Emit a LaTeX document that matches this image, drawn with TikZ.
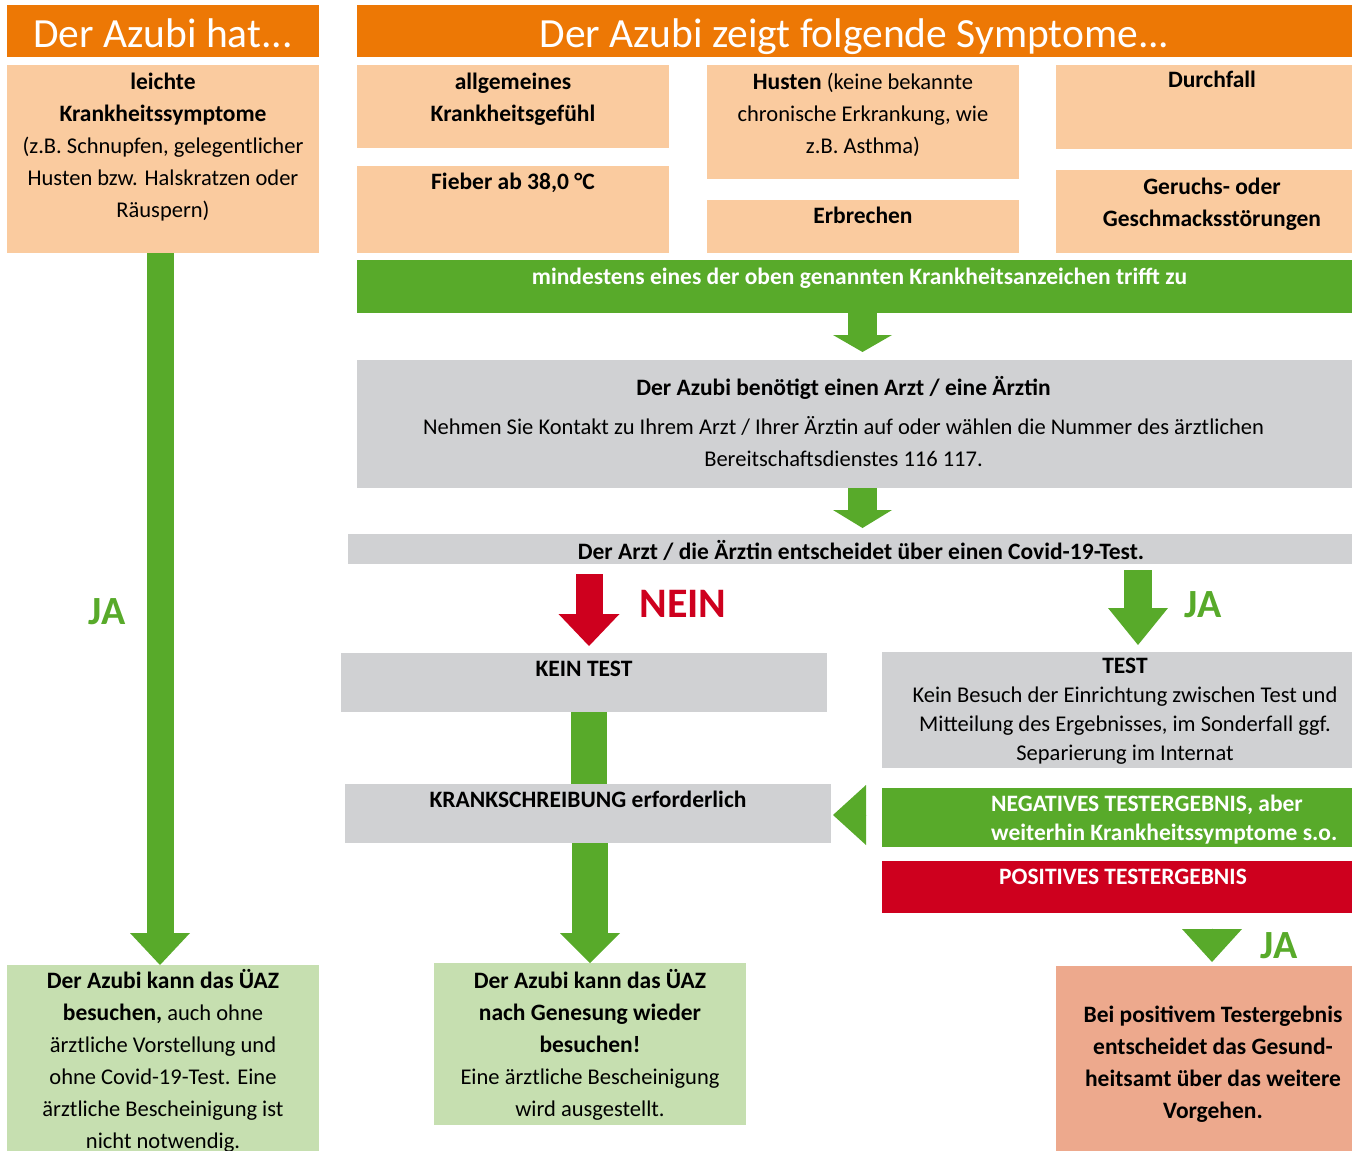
\documentclass[tikz,border=0pt]{standalone}
\usepackage{fontspec}
\setmainfont{Carlito}
\usetikzlibrary{arrows.meta}

\definecolor{headorange}{RGB}{237,120,5}
\definecolor{peach}{RGB}{250,203,159}
\definecolor{okgreen}{RGB}{88,170,42}
\definecolor{boxgray}{RGB}{208,209,211}
\definecolor{alarmred}{RGB}{206,0,30}
\definecolor{palegreen}{RGB}{198,223,176}
\definecolor{salmon}{RGB}{237,169,141}

\newcommand{\bodyfont}{\fontsize{22.5}{32}\selectfont}
\newcommand{\boldfont}{\fontsize{23.5}{32}\selectfont\bfseries}
\newcommand{\hi}[1]{{\boldfont #1}}
\newcommand{\lead}{\rule{0pt}{20pt}}

\begin{document}
\begin{tikzpicture}[x=1pt, y=-1pt,
    cell/.style 2 args={anchor=north west, inner sep=0pt, outer sep=0pt,
                        minimum width=#1, minimum height=#2},
    txt/.style={anchor=north, align=center, inner sep=0pt, font=\bodyfont,
                execute at begin node=\lead, yshift={20pt-#1}},
    txt/.default=28pt,
    ttl/.style={anchor=base, inner sep=0pt, text=white,
                font=\fontsize{41.5}{41.5}\selectfont, yshift=-42pt},
    answer/.style={font=\fontsize{40}{40}\selectfont\bfseries, inner sep=0pt},
    shaft/.style={line width=#1},
    blockhead/.style 2 args={-{Triangle[length=#1, width=#2, line width=0pt]}}
]
\useasboundingbox (0,0) rectangle (1352,1151);

%% headers
\node[cell={312pt}{52pt}, fill=headorange,
      label={[ttl]north:Der Azubi hat...}] (hat) at (7,5) {};
\node[cell={995pt}{52pt}, fill=headorange,
      label={[ttl]north:Der Azubi zeigt folgende Symptome...}] (zeigt) at (357,5) {};

%% symptoms
\node[cell={312pt}{188pt}, fill=peach,
      label={[txt]north:{\hi{leichte}\\\hi{Krankheitssymptome}\\(z.B. Schnupfen, gelegentlicher\\Husten bzw. Halskratzen oder\\Räuspern)}}] (leicht) at (7,65) {};
\node[cell={312pt}{83pt}, fill=peach,
      label={[txt, font=\boldfont]north:{allgemeines\\Krankheitsgefühl}}] (allg) at (357,65) {};
\node[cell={312pt}{87pt}, fill=peach,
      label={[txt=23pt, font=\boldfont]north:{Fieber ab 38,0 °C}}] (fieber) at (357,166) {};
\node[cell={312pt}{114pt}, fill=peach,
      label={[txt]north:{\hi{Husten} (keine bekannte\\chronische Erkrankung, wie\\z.B. Asthma)}}] (husten) at (707,65) {};
\node[cell={312pt}{53pt}, fill=peach,
      label={[txt=23pt, font=\boldfont]north:{Erbrechen}}] (erbr) at (707,200) {};
\node[cell={296pt}{84pt}, fill=peach,
      label={[txt=22pt, xshift=8pt, font=\boldfont]north:{Durchfall}}] (durch) at (1056,65) {};
\node[cell={296pt}{83pt}, fill=peach,
      label={[txt, xshift=8pt, font=\boldfont]north:{Geruchs- oder\\Geschmacksstörungen}}] (geruch) at (1056,170) {};

%% decision chain
\node[cell={995pt}{53pt}, fill=okgreen,
      label={[txt=24pt, xshift=5pt, text=white, font=\boldfont]north:{mindestens eines der oben genannten Krankheitsanzeichen trifft zu}}] (mind) at (357,260) {};
\node[cell={995pt}{128pt}, fill=boxgray,
      label={[txt=36pt, xshift=-11pt]north:{\hi{Der Azubi benötigt einen Arzt / eine Ärztin}\\[7pt]Nehmen Sie Kontakt zu Ihrem Arzt / Ihrer Ärztin auf oder wählen die Nummer des ärztlichen\\Bereitschaftsdienstes 116 117.}}] (arzt1) at (357,360) {};
\node[cell={1004pt}{30pt}, fill=boxgray,
      label={[txt=25pt, xshift=11pt, font=\boldfont]north:{Der Arzt / die Ärztin entscheidet über einen Covid-19-Test.}}] (arzt2) at (348,534) {};

%% no test
\node[cell={486pt}{59pt}, fill=boxgray,
      label={[txt=23pt, font=\boldfont]north:{KEIN TEST}}] (kein) at (341,653) {};
\node[cell={486pt}{59pt}, fill=boxgray,
      label={[txt=23pt, font=\boldfont]north:{KRANKSCHREIBUNG erforderlich}}] (krank) at (345,784) {};

%% test
\node[cell={470pt}{116pt}, fill=boxgray,
      label={[txt=26pt, xshift=8pt, font=\fontsize{22.5}{29}\selectfont]north:{\hi{TEST}\\Kein Besuch der Einrichtung zwischen Test und\\Mitteilung des Ergebnisses, im Sonderfall ggf.\\Separierung im Internat}}] (test) at (882,652) {};
\node[cell={470pt}{59pt}, fill=okgreen,
      label={[txt=27pt, anchor=north west, xshift=109pt, align=left, text=white,
              font=\fontsize{23.5}{29}\selectfont\bfseries]north west:{NEGATIVES TESTERGEBNIS, aber\\weiterhin Krankheitssymptome s.o.}}] (neg) at (882,788) {};
\node[cell={470pt}{52pt}, fill=alarmred,
      label={[txt=23pt, xshift=6pt, text=white, font=\boldfont]north:{POSITIVES TESTERGEBNIS}}] (pos) at (882,861) {};

%% outcomes
\node[cell={312pt}{200pt}, fill=palegreen,
      label={[txt=24pt]north:{\hi{Der Azubi kann das ÜAZ}\\\hi{besuchen,} auch ohne\\ärztliche Vorstellung und\\ohne Covid-19-Test. Eine\\ärztliche Bescheinigung ist\\nicht notwendig.}}] (ok1) at (7,965) {};
\node[cell={312pt}{162pt}, fill=palegreen,
      label={[txt=26pt]north:{\hi{Der Azubi kann das ÜAZ}\\\hi{nach Genesung wieder}\\\hi{besuchen!}\\Eine ärztliche Bescheinigung\\wird ausgestellt.}}] (ok2) at (434,963) {};
\node[cell={296pt}{200pt}, fill=salmon,
      label={[txt=60pt, xshift=9pt, font=\boldfont]north:{Bei positivem Testergebnis\\entscheidet das Gesund-\\heitsamt über das weitere\\Vorgehen.}}] (amt) at (1056,966) {};

%% answers
\node[answer, text=okgreen] (ja-links) at (107,612) {JA};
\node[answer, text=alarmred, font=\fontsize{42}{42}\selectfont\bfseries] (nein) at (683,604) {NEIN};
\node[answer, text=okgreen] (ja-test) at (1203,605) {JA};
\node[answer, text=okgreen] (ja-amt) at (1279,946) {JA};

%% arrows
\draw[okgreen, shaft=27pt, blockhead={32pt}{60pt}] ([xshift=-3pt]leicht.south) -- ([xshift=-3pt]ok1.north);
\draw[okgreen, shaft=29pt, blockhead={17pt}{59pt}, shorten >=8pt] ([xshift=8pt]mind.south) -- ([xshift=8pt]arzt1.north);
\draw[okgreen, shaft=29pt, blockhead={18pt}{59pt}, shorten >=6pt] ([xshift=8pt]arzt1.south) -- ([xshift=8pt]arzt1.south |- arzt2.north);
\draw[alarmred, shaft=27pt, blockhead={32pt}{61pt}, shorten <=10pt, shorten >=7pt] ([xshift=5pt]kein.north |- arzt2.south) -- ([xshift=5pt]kein.north);
\draw[okgreen, shaft=28pt, blockhead={37pt}{60pt}, shorten <=6pt, shorten >=7pt] ([xshift=21pt]test.north |- arzt2.south) -- ([xshift=21pt]test.north);
\draw[okgreen, shaft=36pt] ([xshift=5pt]kein.south) -- ([xshift=5pt]kein.south |- krank.north);
\draw[okgreen, shaft=36pt, blockhead={30pt}{60pt}] (ok2.north |- krank.south) -- (ok2.north);
\draw[okgreen, shaft=0.01pt, blockhead={33pt}{60pt}, shorten <=15pt, shorten >=2pt] ([yshift=2.5pt]neg.west) -- ([yshift=2.5pt]neg.west -| krank.east);
\draw[okgreen, shaft=0.01pt, blockhead={33pt}{60pt}, shorten <=15pt, shorten >=4pt] ([xshift=8pt]amt.north |- pos.south) -- ([xshift=8pt]amt.north);
\end{tikzpicture}
\end{document}
